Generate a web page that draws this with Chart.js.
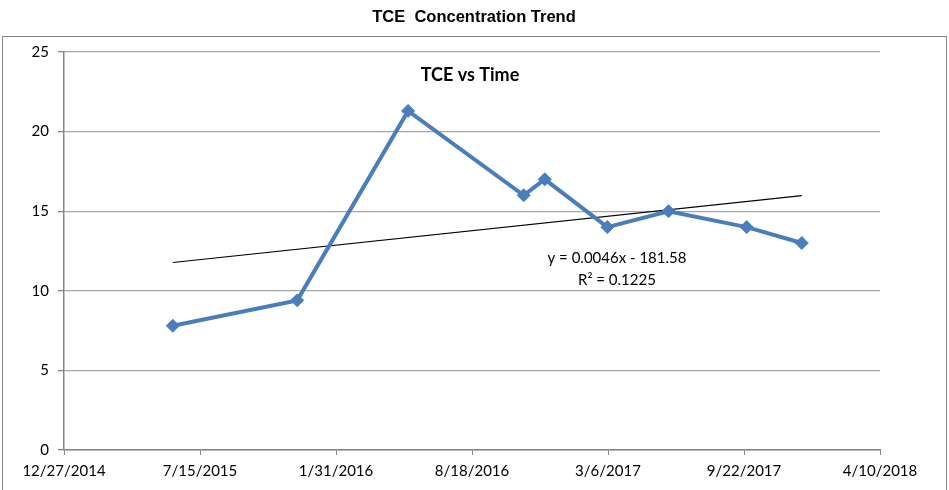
<!DOCTYPE html>
<html>
<head>
<meta charset="utf-8">
<title>TCE Concentration Trend</title>
<script src="https://cdn.jsdelivr.net/npm/chart.js@4.4.1/dist/chart.umd.min.js"></script>
<style>
  html, body { margin: 0; padding: 0; background: #fff; }
  canvas { display: block; }
</style>
</head>
<body>
<canvas id="tceChart" width="949" height="490"></canvas>
<script>
// sampling dates and TCE results
var sampleDates = ['2015-06-05', '2015-12-05', '2016-05-16', '2016-11-02', '2016-12-03',
    '2017-03-05', '2017-06-03', '2017-09-26', '2017-12-16'];
var tceValues = [7.8, 9.4, 21.3, 16.0, 17.0, 14.0, 15.0, 14.0, 13.0];

var chartTitle = 'TCE  Concentration Trend';
var seriesTitle = 'TCE vs Time';
var trendLabel = ['y = 0.0046x - 181.58', 'R\u00b2 = 0.1225'];

// x axis runs on spreadsheet day numbers
var xMin = 42000, xMax = 43200, xStep = 200;
var yMin = 0, yMax = 25, yStep = 5;

var excelEpoch = Date.UTC(1899, 11, 30);
function toSerial(d) {
    return Math.round((Date.parse(d) - excelEpoch) / 86400000);
}
function serialLabel(s) {
    var d = new Date(excelEpoch + s * 86400000);
    return (d.getUTCMonth() + 1) + '/' + d.getUTCDate() + '/' + d.getUTCFullYear();
}

var points = sampleDates.map(function (d, i) {
    return { x: toSerial(d), y: tceValues[i] };
});

// least squares line through the samples
function linearFit(pts) {
    var n = pts.length, sx = 0, sy = 0, sxx = 0, sxy = 0;
    pts.forEach(function (p) { sx += p.x; sy += p.y; sxx += p.x * p.x; sxy += p.x * p.y; });
    var slope = (n * sxy - sx * sy) / (n * sxx - sx * sx);
    return { slope: slope, intercept: (sy - slope * sx) / n };
}
var fit = linearFit(points);
var firstX = points[0].x, lastX = points[points.length - 1].x;
var trendPoints = [
    { x: firstX, y: fit.slope * firstX + fit.intercept },
    { x: lastX, y: fit.slope * lastX + fit.intercept }
];

var blue = '#4a7ebb';
var axisGrey = '#868686';
var gridGrey = '#a6a6a6';

// frame, headings and trendline equation
var textPlugin = {
    id: 'chartText',
    beforeDraw: function (chart) {
        var ctx = chart.ctx;
        ctx.save();
        ctx.strokeStyle = axisGrey;
        ctx.lineWidth = 1;
        ctx.strokeRect(2.5, 36.5, 944, 500);
        ctx.restore();
    },
    afterDraw: function (chart) {
        var ctx = chart.ctx;
        ctx.save();
        ctx.fillStyle = '#000';
        ctx.textAlign = 'center';
        ctx.textBaseline = 'middle';
        ctx.font = 'bold 16.5px "Liberation Sans", Arial, sans-serif';
        ctx.fillText(chartTitle, 474, 17);
        ctx.font = 'bold 18px Lato, sans-serif';
        ctx.fillText(seriesTitle, 470, 75);
        ctx.font = '15px Lato, sans-serif';
        ctx.fillText(trendLabel[0], 617, 258);
        ctx.fillText(trendLabel[1], 617, 280);
        ctx.restore();
    }
};

var ctx = document.getElementById('tceChart').getContext('2d');
var chart = new Chart(ctx, {
    type: 'scatter',
    data: {
        datasets: [{
            label: 'TCE',
            data: points,
            showLine: true,
            borderColor: blue,
            backgroundColor: blue,
            borderWidth: 4,
            pointStyle: 'rectRot',
            pointRadius: 6.5,
            pointBorderWidth: 1,
            pointBorderColor: blue,
            pointBackgroundColor: blue,
            order: 1
        }, {
            label: 'Linear (TCE)',
            data: trendPoints,
            showLine: true,
            borderColor: '#000',
            borderWidth: 1.2,
            pointRadius: 0,
            order: 2
        }]
    },
    options: {
        responsive: false,
        animation: false,
        layout: { padding: { top: 52, right: 69, left: 0, bottom: 0 } },
        plugins: {
            legend: { display: false },
            tooltip: { enabled: false }
        },
        scales: {
            x: {
                type: 'linear',
                min: xMin,
                max: xMax,
                afterFit: function (scale) { scale.height = 40; },
                ticks: {
                    stepSize: xStep,
                    maxRotation: 0,
                    padding: 7,
                    color: '#000',
                    font: { family: 'Lato', size: 15 },
                    callback: function (v) { return serialLabel(v); }
                },
                grid: { drawOnChartArea: false, tickLength: 5, tickColor: axisGrey },
                border: { color: axisGrey, width: 1.5 }
            },
            y: {
                min: yMin,
                max: yMax,
                afterFit: function (scale) { scale.width = 64; },
                ticks: {
                    stepSize: yStep,
                    padding: 9,
                    color: '#000',
                    font: { family: 'Lato', size: 15 }
                },
                grid: { color: gridGrey, lineWidth: 1.3, tickLength: 6, tickColor: axisGrey },
                border: { color: axisGrey, width: 1.5 }
            }
        }
    },
    plugins: [textPlugin]
});
</script>
</body>
</html>
